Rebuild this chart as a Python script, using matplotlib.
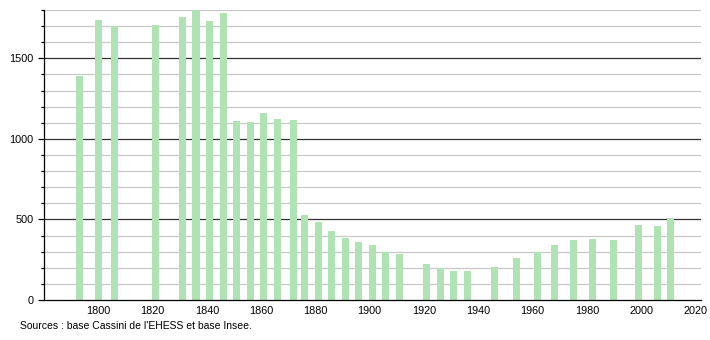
import matplotlib.pyplot as plt
import numpy as np

# Années des recensements et population
annees = [1793, 1800, 1806, 1821, 1831, 1836, 1841, 1846, 1851, 1856,
          1861, 1866, 1872, 1876, 1881, 1886, 1891, 1896, 1901, 1906,
          1911, 1921, 1926, 1931, 1936, 1946, 1954, 1962, 1968, 1975,
          1982, 1990, 1999, 2006, 2011]
population = [1393, 1739, 1702, 1708, 1758, 1797, 1733, 1783, 1112, 1106,
              1161, 1124, 1118, 528, 484, 431, 385, 360, 340, 298,
              286, 224, 197, 180, 180, 205, 261, 296, 342, 373,
              379, 373, 466, 460, 509]

annees_ticks = list(range(1800, 2021, 20))
pop_ticks = [0, 500, 1000, 1500]

plt.rcParams['font.family'] = ['Liberation Sans', 'DejaVu Sans']

fig = plt.figure(figsize=(7.1, 3.4), dpi=100)
ax = fig.add_axes([0.062, 0.1176, 0.925, 0.853])

# grille: fine tous les 100, foncée tous les 500
for v in range(100, 1801, 100):
    if v % 500 == 0:
        ax.axhline(v, color='#333333', lw=0.9, zorder=1)
    else:
        ax.axhline(v, color='#c8c8c8', lw=0.9, zorder=1)

ax.bar(annees, population, width=2.6, color='#b0e3b3', zorder=2)

ax.set_xlim(1780, 2022)
ax.set_ylim(0, 1800)
ax.set_xticks(annees_ticks)
ax.set_yticks(pop_ticks)
ax.set_yticks(range(0, 1801, 100), minor=True)
ax.tick_params(axis='x', length=0, pad=4, labelsize=7.8)
ax.tick_params(axis='y', which='major', length=4, width=0.9, pad=3.5, labelsize=7.8)
ax.tick_params(axis='y', which='minor', length=2, width=0.9)

for s in ['top', 'right']:
    ax.spines[s].set_visible(False)
ax.spines['left'].set_linewidth(0.9)
ax.spines['bottom'].set_linewidth(0.9)

fig.text(0.028, 0.033, "Sources : base Cassini de l'EHESS et base Insee.", fontsize=7.5)

plt.savefig('out.png', dpi=100)
